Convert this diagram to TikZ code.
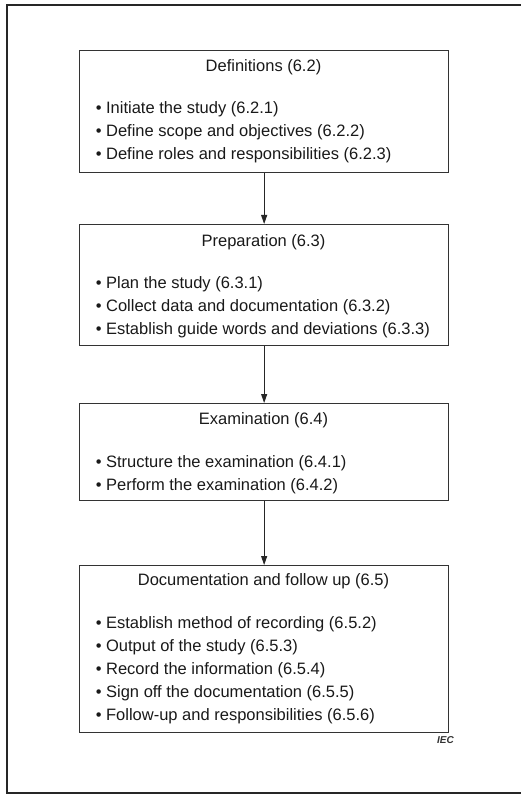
\documentclass[tikz,border=0pt]{standalone}
\usepackage{fontspec}
\setmainfont{Liberation Sans}
\usetikzlibrary{arrows.meta}
\begin{document}
\begin{tikzpicture}[x=1pt,y=-1pt,
  frame/.style={draw=black!85,line width=2pt},
  box/.style={draw=black!80,line width=1.3pt,anchor=north west,inner sep=0pt,minimum width=369pt},
  txt/.style={inner sep=0pt,text=black!90,font=\fontsize{16.5}{20}\selectfont},
  title/.style={txt,anchor=base},
  item/.style={txt,anchor=base west},
  arr/.style={draw=black!85,line width=0.9pt,-{Triangle[length=9pt,width=6pt]}}]
\useasboundingbox (0,0) rectangle (520,794);
\draw[frame] (522,5) -- (7,5) -- (7,793) -- (522,793);
% boxes
\node[box,minimum height=122pt] (b1) at (79,50) {};
\node[box,minimum height=121pt] (b2) at (79,224) {};
\node[box,minimum height=97pt] (b3) at (79,403) {};
\node[box,minimum height=167pt] (b4) at (79,565) {};
% box 1
\node[title] (t1) at (263.5,71.5) {Definitions (6.2)};
\node[item] (i11) at (95.6,114) {• Initiate the study (6.2.1)};
\node[item] (i12) at (95.6,137) {• Define scope and objectives (6.2.2)};
\node[item] (i13) at (95.6,160) {• Define roles and responsibilities (6.2.3)};
% box 2
\node[title] (t2) at (263.5,246) {Preparation (6.3)};
\node[item] (i21) at (95.6,288) {• Plan the study (6.3.1)};
\node[item] (i22) at (95.6,311) {• Collect data and documentation (6.3.2)};
\node[item] (i23) at (95.6,334) {• Establish guide words and deviations (6.3.3)};
% box 3
\node[title] (t3) at (263.5,424) {Examination (6.4)};
\node[item] (i31) at (95.6,467) {• Structure the examination (6.4.1)};
\node[item] (i32) at (95.6,490) {• Perform the examination (6.4.2)};
% box 4
\node[title] (t4) at (263.5,585) {Documentation and follow up (6.5)};
\node[item] (i41) at (95.6,628) {• Establish method of recording (6.5.2)};
\node[item] (i42) at (95.6,651) {• Output of the study (6.5.3)};
\node[item] (i43) at (95.6,674) {• Record the information (6.5.4)};
\node[item] (i44) at (95.6,697) {• Sign off the documentation (6.5.5)};
\node[item] (i45) at (95.6,720) {• Follow-up and responsibilities (6.5.6)};
% arrows
\draw[arr] (b1.south) -- (b2.north);
\draw[arr] (b2.south) -- (b3.north);
\draw[arr] (b3.south) -- (b4.north);
% IEC
\node[inner sep=0pt,anchor=base west,text=black!80,font=\fontsize{10}{12}\selectfont\bfseries\itshape] (iec) at (437,743) {IEC};
\end{tikzpicture}
\end{document}
